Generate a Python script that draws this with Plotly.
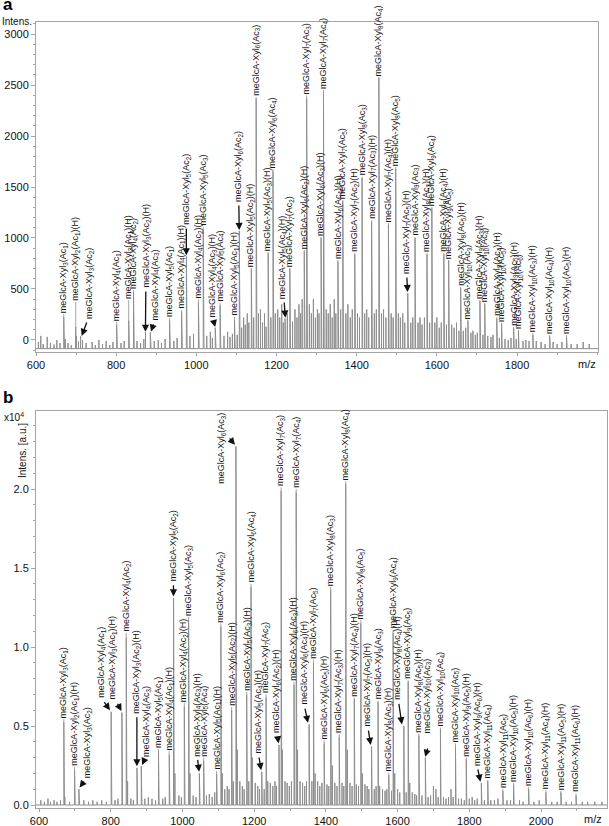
import plotly.graph_objects as go

# ---------------- DATA : panel a ----------------
A_PEAK_MZ = [669.2, 699.1, 711.2, 801.2, 831.2, 843.2, 873.2, 885.2, 933.2, 963.2, 975.2, 1005.2, 1017.2,
             1047.2, 1059.2, 1095.2, 1107.2, 1137.2, 1149.2, 1179.2, 1191.2, 1221.2, 1233.2, 1269.2, 1275.2,
             1311.2, 1317.2, 1353.2, 1365.4, 1395.2, 1413.4, 1437.2, 1455.4, 1479.2, 1497.4, 1527.4, 1545.5,
             1575.4, 1587.5, 1617.4, 1629.5, 1659.4, 1677.5, 1707.5, 1719.5, 1749.5, 1761.5, 1791.5, 1803.5,
             1839.5, 1881.5, 1923.5]
A_PEAK_INT = [225, 130, 35, 150, 190, 470, 75, 75, 200, 280, 820, 370, 1080,
              120, 340, 200, 1070, 690, 2370, 850, 1660, 210, 700, 870, 2370,
              1000, 2430, 770, 1360, 840, 1590, 1160, 2570, 1130, 1680, 460, 1000,
              840, 1290, 840, 780, 510, 190, 380, 350, 210, 160, 120, 90,
              50, 35, 35]
A_XYL = [3, 2, 3, 4, 3, 4, 3, 4, 5, 4, 5, 4, 5, 4, 5, 5, 6, 5, 6, 5, 6, 5, 7, 6, 7, 6, 7, 6, 7, 7, 8, 7, 8, 7, 8, 7,
         9, 8, 9, 8, 9, 8, 10, 9, 10, 9, 10, 9, 10, 10, 10, 10]
A_AC = [1, 1, 2, 1, 1, 2, 2, 3, 1, 1, 2, 2, 3, 3, 4, 1, 2, 2, 3, 3, 4, 4, 2, 2, 3, 3, 4, 4, 5, 2, 3, 3, 4, 4, 5, 5,
        3, 3, 4, 4, 5, 5, 3, 3, 4, 4, 5, 5, 6, 3, 4, 5]
A_HEX = [0, 1, 0, 0, 1, 0, 1, 0, 0, 1, 0, 1, 0, 1, 0, 1, 0, 1, 0, 1, 0, 1, 0, 1, 0, 1, 0, 1, 0, 1, 0, 1, 0, 1, 0, 1,
         0, 1, 0, 1, 0, 1, 0, 1, 0, 1, 0, 1, 0, 1, 1, 1]

A_MINOR_MZ = [606, 612, 618, 628, 636, 645, 652, 660, 671, 673, 680, 688, 701, 706, 716, 725, 740, 748, 757, 766,
              775, 784, 792, 803, 812, 820, 833, 845, 852, 861, 869, 887, 895, 905, 913, 922, 935, 944, 952, 965,
              977, 984, 993, 1007, 1019, 1026, 1035, 1040, 1049, 1061, 1069, 1078, 1084, 1090, 1097, 1102,
              1109, 1113, 1118, 1122, 1127, 1131, 1139, 1143, 1151, 1155, 1160, 1165, 1170, 1174, 1181, 1186,
              1193, 1197, 1203, 1208, 1213, 1217, 1223, 1227, 1235, 1240, 1246, 1251, 1256, 1260, 1264, 1271,
              1277, 1282, 1287, 1292, 1297, 1302, 1306, 1313, 1319, 1324, 1329, 1334, 1339, 1344, 1348, 1355,
              1360, 1367, 1373, 1378, 1384, 1389, 1397, 1402, 1407, 1415, 1420, 1425, 1430, 1439, 1444, 1449,
              1457, 1462, 1467, 1473, 1481, 1486, 1491, 1499, 1504, 1509, 1515, 1520, 1529, 1535, 1540, 1547,
              1553, 1558, 1563, 1569, 1577, 1582, 1589, 1595, 1600, 1606, 1611, 1619, 1624, 1631, 1637, 1643,
              1649, 1655, 1661, 1666, 1672, 1679, 1685, 1690, 1696, 1701, 1709, 1715, 1721, 1727, 1735, 1740,
              1751, 1756, 1763, 1770, 1778, 1785, 1793, 1798, 1805, 1815, 1822, 1830, 1841, 1848, 1860, 1870,
              1883, 1890, 1900, 1912, 1925, 1935, 1950, 1965, 1980]
A_MINOR_INT = [-20, 40, -40, 30, -30, -45, 0, -30, 110, 10, -30, -50, 40, -10, 0, -30, -20, -50, 0, -40,
               -10, -50, -20, 90, -30, -10, 90, 250, -10, -30, 10, 50, -10, 0, -30, 10, 100, -10, 20, 140,
               420, 40, 60, 200, 520, 40, 80, 20, 60, 150, 40, 80, 30, 60, 100, 50,
               450, 120, 220, 150, 260, 170, 330, 220, 1150, 260, 300, 170, 260, 130, 380, 220,
               780, 260, 300, 220, 350, 170, 130, 260, 380, 180, 300, 220, 350, 260, 400, 450,
               1150, 350, 260, 400, 220, 300, 260, 450, 1150, 300, 260, 350, 220, 400, 260, 350,
               300, 650, 260, 350, 220, 300, 400, 260, 220, 750, 260, 300, 220, 550, 260, 300,
               1250, 260, 300, 220, 500, 260, 220, 800, 260, 220, 260, 170, 220, 170, 220, 450,
               170, 220, 150, 220, 400, 170, 600, 170, 220, 120, 170, 380, 150, 360, 150, 120,
               170, 90, 230, 90, 120, 170, 70, 90, 50, 70, 170, 50, 170, 40, 30, 50,
               90, 20, 80, 10, 0, 20, 50, 10, 40, -10, 0, -10, 20, -10, -20, -40,
               20, -20, -40, -20, 20, -40, -40, -20, -40]

# ---------------- DATA : panel b (x10^4) ----------------
B_PEAK_MZ = [669.2, 699.1, 711.2, 801.2, 831.2, 843.2, 873.2, 885.2, 933.2, 963.2, 975.2, 1005.2, 1017.2,
             1047.2, 1059.2, 1095.2, 1107.2, 1137.2, 1149.2, 1179.2, 1191.2, 1221.2, 1233.2, 1269.2, 1275.2,
             1311.2, 1317.2, 1353.2, 1365.4, 1395.2, 1413.4, 1437.2, 1455.4, 1479.2, 1497.4, 1527.4, 1545.5,
             1575.4, 1587.5, 1617.4, 1629.5, 1659.4, 1677.5, 1719.5, 1761.5, 1791.5, 1833.6, 1851.5, 1893.5,
             1923.5, 1965.5, 2013.5, 2055.5, 2097.6]
B_PEAK_INT = [0.525, 0.22, 0.10, 0.59, 0.585, 1.06, 0.235, 0.245, 0.34, 0.32, 1.31, 0.62, 1.17,
              0.20, 0.28, 0.20, 1.13, 0.60, 2.27, 0.70, 1.38, 0.21, 0.68, 0.38, 1.99,
              0.76, 1.98, 0.51, 0.90, 0.39, 1.36, 0.43, 2.03, 0.67, 1.15, 0.37, 0.65,
              0.19, 1.09, 0.50, 0.78, 0.44, 0.30, 0.48, 0.37, 0.29, 0.14, 0.15, 0.09,
              0.13, 0.10, 0.08, 0.08, 0.06]
B_XYL = [3, 2, 3, 4, 3, 4, 3, 4, 5, 4, 5, 4, 5, 4, 5, 5, 6, 5, 6, 5, 6, 5, 7, 6, 7, 6, 7, 6, 7, 6, 8, 7, 8, 7, 8, 7,
         9, 8, 9, 8, 9, 8, 10, 10, 10, 9, 9, 11, 11, 10, 10, 11, 11, 11]
B_AC = [1, 1, 2, 1, 1, 2, 2, 3, 1, 1, 2, 2, 3, 3, 4, 1, 2, 2, 3, 3, 4, 4, 2, 2, 3, 3, 4, 4, 5, 5, 3, 3, 4, 4, 5, 5,
        3, 3, 4, 4, 5, 5, 3, 4, 5, 5, 6, 4, 5, 5, 6, 4, 5, 6]
B_HEX = [0, 1, 0, 0, 1, 0, 1, 0, 0, 1, 0, 1, 0, 1, 0, 1, 0, 1, 0, 1, 0, 1, 0, 1, 0, 1, 0, 1, 0, 1, 0, 1, 0, 1, 0, 1,
         0, 1, 0, 1, 0, 1, 0, 0, 0, 1, 1, 0, 0, 1, 1, 1, 1, 1]

B_MINOR_MZ = [605, 615, 625, 632, 642, 650, 660, 671, 672, 685, 701, 713, 725, 738, 750, 762, 775, 788, 803, 812,
              820, 833, 845, 847, 856, 863, 875, 887, 895, 905, 915, 925, 935, 945, 952, 965, 977, 979, 990, 997,
              1007, 1019, 1021, 1030, 1038, 1049, 1061, 1067, 1075, 1083, 1090, 1097, 1109, 1111, 1118, 1125,
              1130, 1139, 1142, 1151, 1153, 1160, 1167, 1172, 1181, 1185, 1193, 1195, 1203, 1210, 1215, 1223,
              1228, 1235, 1238, 1245, 1252, 1258, 1262, 1271, 1277, 1279, 1286, 1292, 1298, 1304, 1313, 1319,
              1321, 1328, 1335, 1341, 1346, 1355, 1361, 1367, 1370, 1377, 1383, 1389, 1397, 1403, 1408, 1415,
              1418, 1425, 1431, 1439, 1445, 1450, 1457, 1460, 1467, 1473, 1481, 1485, 1491, 1499, 1502, 1509,
              1515, 1520, 1529, 1535, 1540, 1547, 1550, 1558, 1565, 1570, 1577, 1583, 1589, 1592, 1600, 1606,
              1619, 1624, 1631, 1634, 1641, 1648, 1653, 1661, 1668, 1679, 1685, 1692, 1700, 1707, 1713, 1721,
              1728, 1735, 1742, 1749, 1755, 1763, 1770, 1778, 1786, 1793, 1800, 1808, 1815, 1822, 1835, 1842,
              1853, 1860, 1870, 1880, 1895, 1905, 1915, 1925, 1940, 1950, 1967, 1980, 1995, 2015, 2030, 2045,
              2057, 2070, 2085, 2099, 2115, 2130, 2150, 2170]
B_MINOR_INT = [0.03, 0.02, 0.04, 0.02, 0.03, 0.02, 0.03, 0.09, 0.05, 0.02, 0.08, 0.07, 0.03, 0.02, 0.03, 0.02,
               0.03, 0.02, 0.20, 0.03, 0.04, 0.22, 0.50, 0.15, 0.04, 0.03, 0.20, 0.15, 0.04, 0.05, 0.04, 0.03,
               0.15, 0.04, 0.05, 0.16, 0.60, 0.20, 0.06, 0.05, 0.30, 0.55, 0.20, 0.06, 0.05, 0.15, 0.17, 0.06,
               0.07, 0.05, 0.08, 0.12, 0.50, 0.20, 0.10, 0.12, 0.10, 0.30, 0.15, 1.00, 0.35, 0.15, 0.12, 0.10,
               0.35, 0.15, 0.65, 0.30, 0.14, 0.12, 0.10, 0.12, 0.10, 0.30, 0.15, 0.14, 0.12, 0.15, 0.12, 0.20,
               0.90, 0.35, 0.15, 0.14, 0.12, 0.15, 0.35, 0.90, 0.35, 0.15, 0.14, 0.12, 0.15, 0.25, 0.15, 0.45,
               0.20, 0.15, 0.12, 0.14, 0.20, 0.13, 0.12, 0.65, 0.25, 0.14, 0.12, 0.22, 0.14, 0.12, 0.95, 0.35,
               0.14, 0.12, 0.32, 0.13, 0.12, 0.55, 0.20, 0.13, 0.12, 0.10, 0.18, 0.10, 0.12, 0.30, 0.12, 0.10,
               0.09, 0.10, 0.10, 0.09, 0.50, 0.20, 0.10, 0.08, 0.24, 0.08, 0.36, 0.14, 0.08, 0.07, 0.06, 0.20,
               0.06, 0.14, 0.05, 0.06, 0.12, 0.10, 0.05, 0.22, 0.05, 0.04, 0.05, 0.10, 0.05, 0.16, 0.04, 0.04,
               0.03, 0.13, 0.04, 0.05, 0.03, 0.04, 0.06, 0.03, 0.07, 0.03, 0.03, 0.04, 0.05, 0.03, 0.03, 0.06,
               0.03, 0.02, 0.05, 0.02, 0.03, 0.04, 0.02, 0.02, 0.04, 0.02, 0.02, 0.03, 0.02, 0.02, 0.02, 0.02]

A_TICKS = [600, 800, 1000, 1200, 1400, 1600, 1800]
A_YTICKS = [0, 500, 1000, 1500, 2000, 2500, 3000]
B_TICKS = [600, 800, 1000, 1200, 1400, 1600, 1800, 2000]
B_YTICKS = [0.0, 0.5, 1.0, 1.5, 2.0]

# ---------------- LAYOUT of labels (placement, not data) ----------------
A_LBL_Y = [255, 373, 195, 175, 390, 490, 500, 176, 216, 294, 1118, 400, 1110,
           215, 363, 225, 1343, 706, 2382, 863, 1676, 392, 706, 882, 2400,
           1010, 2450, 784, 1372, 853, 1600, 1176, 2578, 1147, 1696, 637, 1010,
           853, 1304, 853, 784, 519, 196, 392, 363, 225, 167, 127, 98,
           69, 50, 50]
A_LBL_X = {2: 733, 6: 876, 7: 897, 10: 975, 13: 1040, 16: 1105, 21: 1217, 35: 1523}
A_ARROWS = {2: (728, 185, 714, 40), 6: (874, 490, 873, 80), 7: (894, 168, 887, 82),
            10: (975, 1108, 975, 830), 13: (1042, 205, 1047, 127), 16: (1106, 1333, 1107, 1078),
            21: (1219, 382, 1222, 218), 35: (1525, 627, 1527, 470)}

B_LBL_Y = [0.544, 0.24, 0.165, 0.67, 0.66, 1.09, 0.57, 0.30, 0.355, 0.34, 1.41, 0.646, 1.19,
           0.30, 0.30, 0.215, 1.15, 0.62, 2.03, 0.715, 1.40, 0.32, 0.70, 0.45, 2.01,
           0.78, 2.00, 0.63, 0.92, 0.41, 1.38, 0.45, 2.05, 0.68, 1.17, 0.49, 0.66,
           0.205, 1.11, 0.66, 0.79, 0.45, 0.45, 0.49, 0.39, 0.30, 0.24, 0.16, 0.10,
           0.14, 0.115, 0.095, 0.09, 0.075]
B_LBL_X = {2: 736, 3: 776, 4: 806, 6: 873, 7: 898, 10: 975, 13: 1041, 18: 1110, 21: 1211,
           23: 1264, 27: 1339, 35: 1517, 39: 1601, 42: 1682, 46: 1821}
B_ARROWS = {2: (729, 0.158, 713, 0.11), 3: (779, 0.66, 798, 0.60), 4: (817, 0.65, 830, 0.595),
            6: (873, 0.565, 873, 0.245), 7: (895.6, 0.295, 887.5, 0.253), 10: (975, 1.40, 975, 1.32),
            13: (1042, 0.295, 1046.5, 0.21), 18: (1128, 2.33, 1146.5, 2.28), 21: (1213, 0.31, 1219.5, 0.22),
            23: (1265, 0.44, 1268, 0.39), 27: (1341, 0.62, 1350, 0.52), 35: (1518, 0.48, 1525, 0.38),
            39: (1603, 0.65, 1612, 0.51), 42: (1685, 0.367, 1677, 0.305), 46: (1823, 0.235, 1831, 0.147)}

W, H = 609, 826
FONT = "Liberation Sans, Arial, Helvetica, sans-serif"
GRAY = "#8e8e8e"
FRAME = "#a5a5a5"
A_BASE = -85
B_BASE = 0.0
A_XR = [600, 2002]
B_XR = [591.6, 2184]


def lbl(n, m, h):
    s = "meGlcA-Xyl<sub>%d</sub>(Ac<sub>%d</sub>)" % (n, m)
    return s + "(H)" if h else s


def spectrum(mz_a, in_a, mz_b, in_b, base, xr):
    pts = sorted(list(zip(mz_a, in_a)) + list(zip(mz_b, in_b)))
    xs, ys = [xr[0]], [base]
    for m, v in pts:
        xs += [m, m, m]
        ys += [base, v, base]
    xs.append(xr[1])
    ys.append(base)
    return xs, ys


fig = go.Figure()
annotations = []

panels = [
    ("x", "y", A_PEAK_MZ, A_PEAK_INT, A_XYL, A_AC, A_HEX, A_MINOR_MZ, A_MINOR_INT, A_BASE, A_XR,
     A_LBL_X, A_LBL_Y, A_ARROWS),
    ("x2", "y2", B_PEAK_MZ, B_PEAK_INT, B_XYL, B_AC, B_HEX, B_MINOR_MZ, B_MINOR_INT, B_BASE, B_XR,
     B_LBL_X, B_LBL_Y, B_ARROWS),
]

for (xr_, yr_, pmz, pint, xyl, ac, hx, mmz, mint, base, xrng, lx, ly, arrows) in panels:
    sx, sy = spectrum(pmz, pint, mmz, mint, base, xrng)
    fig.add_trace(go.Scatter(x=sx, y=sy, mode="lines", xaxis=xr_, yaxis=yr_,
                             line=dict(color=GRAY, width=1), hoverinfo="skip"))
    lx_, ly_ = [], []
    for i, m in enumerate(pmz):
        if i not in arrows:
            lx_ += [m, m, None]
            ly_ += [pint[i], ly[i], None]
    fig.add_trace(go.Scatter(x=lx_, y=ly_, mode="lines", xaxis=xr_, yaxis=yr_,
                             line=dict(color=GRAY, width=0.8), hoverinfo="skip"))
    for i, m in enumerate(pmz):
        annotations.append(dict(
            x=lx.get(i, m), y=ly[i], xref=xr_, yref=yr_, text=lbl(xyl[i], ac[i], hx[i]),
            textangle=-90, showarrow=False, xanchor="center", yanchor="bottom",
            font=dict(family=FONT, size=9, color="#111"), borderpad=0))
    for i, (tx, ty, hx_, hy_) in arrows.items():
        annotations.append(dict(
            x=hx_, y=hy_, ax=tx, ay=ty, xref=xr_, yref=yr_, axref=xr_, ayref=yr_, text="",
            showarrow=True, arrowhead=2, arrowsize=1.1, arrowwidth=1.3, arrowcolor="#111", standoff=0))

# panel letters / axis texts
annotations += [
    dict(x=1 / W, y=1 - 5 / H, xref="paper", yref="paper", text="<b>a</b>", showarrow=False,
         xanchor="left", yanchor="middle", font=dict(family=FONT, size=17, color="black")),
    dict(x=1 / W, y=1 - 398 / H, xref="paper", yref="paper", text="<b>b</b>", showarrow=False,
         xanchor="left", yanchor="middle", font=dict(family=FONT, size=17, color="black")),
    dict(x=0 / W, y=1 - 21 / H, xref="paper", yref="paper", text="Intens.", showarrow=False,
         xanchor="left", yanchor="middle", font=dict(family=FONT, size=10, color="#111")),
    dict(x=2 / W, y=1 - 417 / H, xref="paper", yref="paper", text="x10<sup>4</sup>", showarrow=False,
         xanchor="left", yanchor="middle", font=dict(family=FONT, size=10, color="#111")),
    dict(x=22 / W, y=1 - 451 / H, xref="paper", yref="paper", text="Intens. [a.u.]", showarrow=False,
         textangle=-90, xanchor="center", yanchor="middle", font=dict(family=FONT, size=10, color="#111")),
    dict(x=587 / W, y=1 - 364 / H, xref="paper", yref="paper", text="m/z", showarrow=False,
         xanchor="center", yanchor="middle", font=dict(family=FONT, size=11, color="#111")),
    dict(x=593 / W, y=1 - 819 / H, xref="paper", yref="paper", text="m/z", showarrow=False,
         xanchor="center", yanchor="middle", font=dict(family=FONT, size=11, color="#111")),
]

axis_common = dict(showgrid=False, zeroline=False, showline=True, linecolor=FRAME, linewidth=1,
                   mirror=True, tickcolor=FRAME, automargin=False,
                   tickfont=dict(family=FONT, size=11, color="#111"))

fig.update_layout(
    width=W, height=H, margin=dict(l=0, r=0, t=0, b=0),
    paper_bgcolor="white", plot_bgcolor="white", showlegend=False,
    annotations=annotations,
    xaxis=dict(domain=[36 / W, 598 / W], range=A_XR, anchor="y", tickvals=A_TICKS,
               ticktext=[str(t) for t in A_TICKS], ticks="outside", ticklen=3,
               minor=dict(tick0=600, dtick=100, ticks="outside", ticklen=2, tickcolor=FRAME), **axis_common),
    yaxis=dict(domain=[1 - 352 / H, 1 - 22 / H], range=[-118, 3118], anchor="x", tickvals=A_YTICKS,
               ticktext=[str(t) for t in A_YTICKS], ticks="outside", ticklen=4,
               minor=dict(tick0=0, dtick=100, ticks="outside", ticklen=2, tickcolor=FRAME), **axis_common),
    xaxis2=dict(domain=[36 / W, 607 / W], range=B_XR, anchor="y2", tickvals=B_TICKS,
                ticktext=[str(t) for t in B_TICKS], ticks="outside", ticklen=3,
                minor=dict(tick0=600, dtick=100, ticks="outside", ticklen=2, tickcolor=FRAME), **axis_common),
    yaxis2=dict(domain=[1 - 808 / H, 1 - 411 / H], range=[-0.019, 2.494], anchor="x2", tickvals=B_YTICKS,
                ticktext=["%.1f" % t for t in B_YTICKS], ticks="outside", ticklen=4,
                minor=dict(tick0=0, dtick=0.1, ticks="outside", ticklen=2, tickcolor=FRAME), **axis_common),
)

fig.write_html("out.html", config={"displayModeBar": False},
               post_script="document.body.style.margin='0px';")
